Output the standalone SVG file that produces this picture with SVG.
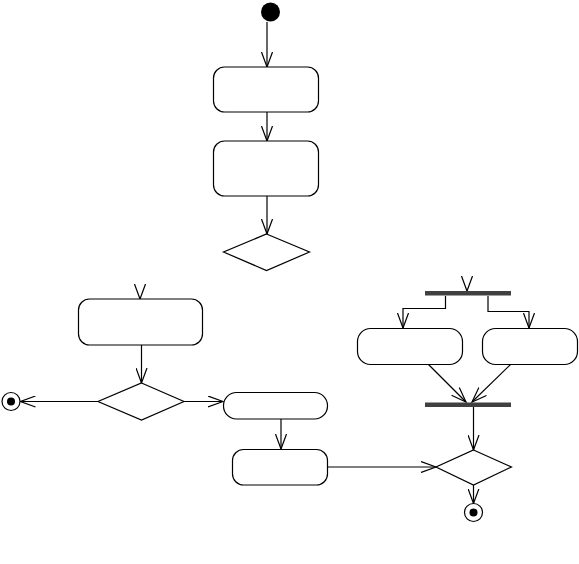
<svg xmlns="http://www.w3.org/2000/svg" width="579" height="564" viewBox="0 0 579 564">
<defs>
<style>
.node{fill:#fff;stroke:#000;stroke-width:1.2}
.bar{fill:#404040;stroke:none}
.edge{fill:none;stroke:#000;stroke-width:1.2}
.head{fill:none;stroke:#000;stroke-width:1.2}
</style>
<marker id="arr" viewBox="0 0 16 12" refX="15" refY="6" markerWidth="16" markerHeight="12" markerUnits="userSpaceOnUse" orient="auto">
<path d="M0,0.5 L15,6 L0,11.5" fill="none" stroke="#000" stroke-width="1.2"/>
</marker>
</defs>
<rect width="579" height="564" fill="#fff"/>
<g id="connectors">
<line class="edge" x1="267" y1="22" x2="267" y2="67" marker-end="url(#arr)"/>
<line class="edge" x1="267" y1="112" x2="267" y2="141" marker-end="url(#arr)"/>
<line class="edge" x1="267" y1="196" x2="267" y2="234" marker-end="url(#arr)"/>
<line class="edge" x1="140" y1="297" x2="140" y2="299" marker-end="url(#arr)"/>
<line class="edge" x1="141.5" y1="345" x2="141.5" y2="383" marker-end="url(#arr)"/>
<line class="edge" x1="98" y1="401.5" x2="20.5" y2="401.5" marker-end="url(#arr)"/>
<line class="edge" x1="184" y1="401.5" x2="223" y2="401.5" marker-end="url(#arr)"/>
<line class="edge" x1="281" y1="419" x2="281" y2="449" marker-end="url(#arr)"/>
<line class="edge" x1="327" y1="467" x2="436" y2="467" marker-end="url(#arr)"/>
<line class="edge" x1="467" y1="289" x2="467" y2="291" marker-end="url(#arr)"/>
<polyline class="edge" points="445.5,296 445.5,308.5 403,308.5 403,328" marker-end="url(#arr)"/>
<polyline class="edge" points="488,296 488,311.5 529,311.5 529,328" marker-end="url(#arr)"/>
<line class="edge" x1="428" y1="364" x2="466" y2="402" marker-end="url(#arr)"/>
<line class="edge" x1="511" y1="364" x2="472" y2="402" marker-end="url(#arr)"/>
<line class="edge" x1="473.5" y1="407" x2="473.5" y2="450" marker-end="url(#arr)"/>
<line class="edge" x1="473.5" y1="485" x2="473.5" y2="503.5" marker-end="url(#arr)"/>
</g>
<g id="start"><circle cx="270.5" cy="12" r="9.5" fill="#000"/></g>
<g id="action1"><rect class="node" x="213.5" y="67" width="105" height="45" rx="11"/></g>
<g id="action2"><rect class="node" x="213.5" y="141" width="105" height="55" rx="11"/></g>
<g id="decision1"><polygon class="node" points="266.5,234 309.5,252 266.5,270.5 223.5,252"/></g>
<g id="action3"><rect class="node" x="78.5" y="299" width="124" height="46" rx="11"/></g>
<g id="decision2"><polygon class="node" points="141.5,383 184,401.5 141.5,420 98,401.5"/></g>
<g id="final1"><circle class="node" cx="11" cy="401.5" r="9"/><circle cx="11" cy="401.5" r="4" fill="#000"/></g>
<g id="action4"><rect class="node" x="223.5" y="392.5" width="104" height="26.5" rx="13"/></g>
<g id="action5"><rect class="node" x="232.5" y="449.5" width="95" height="35.5" rx="11"/></g>
<g id="fork"><rect class="bar" x="425" y="291" width="86" height="4.5"/></g>
<g id="action6"><rect class="node" x="357.5" y="328.5" width="105" height="36" rx="13"/></g>
<g id="action7"><rect class="node" x="482.5" y="328.5" width="95" height="36" rx="13"/></g>
<g id="join"><rect class="bar" x="425" y="402.5" width="86" height="4.5"/></g>
<g id="decision3"><polygon class="node" points="473.5,450 511.5,467 473.5,485 436,467"/></g>
<g id="final2"><circle class="node" cx="473.5" cy="512.5" r="9"/><circle cx="473.5" cy="512.5" r="4" fill="#000"/></g>
</svg>
